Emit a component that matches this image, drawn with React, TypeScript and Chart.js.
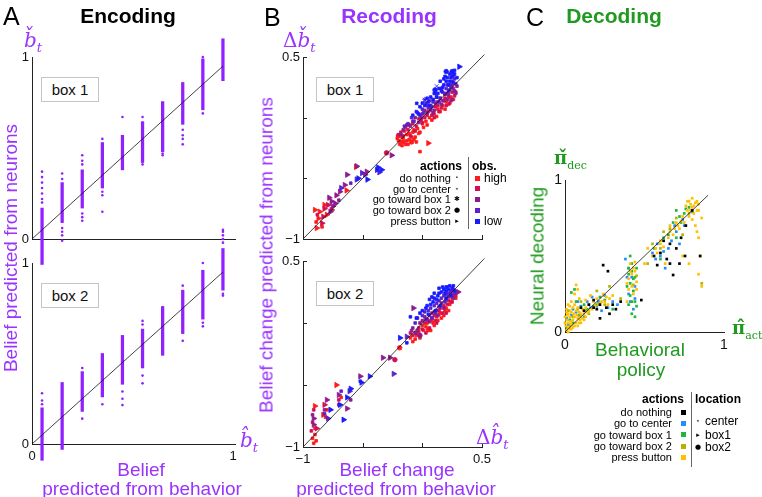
import React, { useEffect, useRef } from 'react';
import { Chart, registerables } from 'chart.js';

Chart.register(...registerables);
Chart.defaults.font.family = '"Liberation Sans", Arial, Helvetica, sans-serif';
Chart.defaults.color = '#111';

const W = 762;
const H = 497;
const PURPLE_TEXT = '#9933ff';
const PURPLE_DOT = '#9020ff';
const GREEN_TEXT = '#1f9a1f';
const SANS = '"Liberation Sans", Arial, Helvetica, sans-serif';
const SERIF = '"DejaVu Serif", "Liberation Serif", serif';

// ---------------- Panel A : Encoding ----------------
const beliefLevels = [0.05, 0.15, 0.25, 0.35, 0.45, 0.55, 0.65, 0.75, 0.85, 0.95];
const box1CoreLow = [-0.14, 0.09, 0.17, 0.28, 0.38, 0.42, 0.48, 0.63, 0.71, 0.87];
const box1CoreHigh = [0.17, 0.31, 0.38, 0.53, 0.57, 0.645, 0.755, 0.86, 0.99, 1.1];
const box1Dots = [
  [0.05, 0.37], [0.05, 0.34], [0.05, 0.31], [0.05, 0.28], [0.05, 0.25], [0.05, 0.22], [0.05, 0.2], [0.05, -0.2],
  [0.15, 0.36], [0.15, 0.33], [0.15, 0.06], [0.15, 0.04], [0.15, 0.02], [0.15, -0.01],
  [0.25, 0.46], [0.25, 0.43], [0.25, 0.41], [0.25, 0.14], [0.25, 0.12], [0.25, 0.1],
  [0.35, 0.55], [0.35, 0.26], [0.35, 0.24], [0.35, 0.15],
  [0.45, 0.67], [0.55, 0.67], [0.55, 0.41], [0.65, 0.47], [0.65, 0.46],
  [0.75, 0.6], [0.75, 0.57], [0.75, 0.55], [0.75, 0.52],
  [0.85, 1.0], [0.85, 0.69],
  [0.95, 0.05], [0.95, 0.04], [0.95, 0.02], [0.95, 0.0], [0.95, -0.02], [0.95, -0.04], [0.95, -0.06],
];
const box2CoreLow = [-0.09, -0.03, 0.18, 0.26, 0.33, 0.42, 0.49, 0.61, 0.69, 0.85];
const box2CoreHigh = [0.2, 0.34, 0.4, 0.5, 0.6, 0.635, 0.76, 0.85, 0.96, 1.08];
const box2Dots = [
  [0.05, 0.28], [0.05, 0.24], [0.05, 0.22], [0.15, -0.04],
  [0.25, 0.42], [0.25, 0.14], [0.35, 0.22],
  [0.45, 0.29], [0.45, 0.25], [0.45, 0.215],
  [0.55, 0.68], [0.55, 0.66], [0.55, 0.378], [0.55, 0.335],
  [0.75, 0.875], [0.75, 0.57], [0.85, 1.0], [0.85, 0.67], [0.85, 0.65], [0.95, 0.83], [0.95, 0.82],
];
const encodingDiagonal = [0, 0.95];
const unitTicks = [0, 1];

// ---------------- Panel B : Recoding ----------------
// points: [x, y, action]  action: 0 do nothing, 1 go to center, 2 toward box 1, 3 toward box 2, 4 press button
const recodeTicks = [-1, -0.5, 0, 0.5];
const recodeDiagonal = [-1, 0.52];
const obsColors = ['#ff1a1a', '#d01050', '#8e1a8e', '#5a22c8', '#1a1aff'];
const obsLabels = ['high', '', '', '', 'low'];

const b1High = [
  [-0.2, -0.19, 0], [-0.19, -0.22, 0], [-0.17, -0.16, 0], [-0.16, -0.2, 0], [-0.14, -0.22, 0], [-0.13, -0.14, 0],
  [-0.11, -0.18, 0], [-0.09, -0.2, 3], [-0.08, -0.12, 0], [-0.06, -0.16, 0], [-0.04, -0.09, 0], [-0.02, -0.12, 0],
  [0.0, -0.05, 0], [0.03, -0.03, 0], [0.06, 0.0, 0], [0.1, 0.03, 0], [0.13, 0.07, 0], [0.17, 0.1, 0], [0.2, 0.13, 0],
  [0.24, 0.17, 0], [-0.2, -0.15, 3], [-0.15, -0.11, 0], [-0.12, -0.22, 0], [-0.05, -0.2, 0],
  [-0.21, -0.17, 0], [-0.18, -0.2, 0], [-0.16, -0.17, 0], [-0.13, -0.19, 0], [-0.11, -0.13, 0], [-0.09, -0.16, 0],
  [-0.07, -0.1, 0], [-0.03, -0.13, 0], [0.01, -0.08, 0], [0.04, -0.06, 0], [0.08, -0.02, 0], [0.12, 0.01, 0],
  [0.15, 0.05, 0], [0.19, 0.07, 0], [0.22, 0.11, 0], [0.26, 0.15, 0], [-0.17, -0.23, 0], [-0.07, -0.18, 0],
  [0.05, -0.21, 4], [-0.02, -0.28, 0], [-0.556, -0.406, 4], [-0.155, -0.2, 0],
  [-0.9, -0.76, 4], [-0.87, -0.83, 4], [-0.885, -0.91, 4], [-0.86, -0.775, 4], [-0.8, -0.8, 4], [-0.635, -0.6, 4],
  [-0.89, -0.86, 0], [-0.84, -0.9, 0], [-0.82, -0.72, 4],
];
const b1Mid1 = [
  [-0.18, -0.12, 0], [-0.14, -0.08, 0], [-0.12, -0.1, 0], [-0.08, -0.05, 0], [-0.05, -0.07, 0], [-0.01, -0.02, 0],
  [0.02, 0.0, 0], [0.05, 0.05, 0], [0.08, 0.02, 0], [0.11, 0.09, 0], [0.14, 0.05, 0], [0.17, 0.14, 0], [0.2, 0.1, 0],
  [0.22, 0.17, 0], [0.25, 0.21, 0], [0.27, 0.18, 0], [0.23, 0.12, 0], [-0.1, -0.15, 0],
  [-0.2, -0.14, 0], [-0.16, -0.15, 0], [-0.11, -0.06, 0], [-0.06, -0.11, 0], [-0.03, -0.01, 0], [0.0, -0.04, 0],
  [0.04, 0.02, 0], [0.07, 0.06, 0], [0.1, 0.0, 0], [0.13, 0.1, 0], [0.16, 0.08, 0], [0.19, 0.16, 0], [0.24, 0.14, 0],
  [0.28, 0.21, 0], [0.21, 0.2, 0],
  [-0.3, -0.29, 3], [-0.84, -0.87, 4], [-0.82, -0.75, 4], [-0.79, -0.72, 4], [-0.83, -0.816, 4], [-0.76, -0.76, 4], [-0.88, -0.8, 0],
];
const b1Mid2 = [
  [-0.16, -0.1, 0], [-0.1, -0.07, 0], [-0.06, 0.0, 0], [-0.03, -0.04, 0], [0.0, 0.03, 0], [0.04, 0.04, 0], [0.07, 0.1, 0],
  [0.1, 0.06, 0], [0.13, 0.13, 0], [0.16, 0.11, 0], [0.19, 0.19, 0], [0.21, 0.15, 0], [0.23, 0.23, 0], [0.26, 0.24, 0],
  [0.28, 0.2, 0], [0.25, 0.15, 0],
  [-0.18, -0.14, 0], [-0.13, -0.06, 0], [-0.08, -0.03, 0], [-0.01, 0.0, 0], [0.02, 0.06, 0], [0.05, 0.08, 0],
  [0.09, 0.04, 0], [0.11, 0.12, 0], [0.15, 0.16, 0], [0.18, 0.14, 0], [0.22, 0.19, 0], [0.25, 0.27, 0], [0.27, 0.22, 0], [0.29, 0.26, 0],
  [-0.257, -0.31, 4], [-0.466, -0.445, 4], [-0.55, -0.4, 4], [-0.63, -0.47, 4], [-0.48, -0.47, 4], [-0.77, -0.775, 4],
  [-0.76, -0.69, 4], [-0.75, -0.73, 4], [-0.72, -0.64, 4], [-0.69, -0.61, 4], [-0.65, -0.555, 4], [-0.73, -0.706, 4],
  [-0.78, -0.66, 4], [-0.7, -0.68, 0],
];
const b1Mid3 = [
  [-0.12, -0.05, 0], [-0.07, -0.03, 0], [-0.02, 0.02, 0], [0.0, 0.07, 0], [0.04, 0.1, 0], [0.07, 0.07, 0], [0.09, 0.13, 0],
  [0.12, 0.17, 0], [0.15, 0.16, 0], [0.17, 0.21, 0], [0.2, 0.24, 0], [0.23, 0.27, 0], [0.25, 0.3, 0], [0.1, 0.15, 2], [0.02, 0.15, 1],
  [-0.15, -0.07, 0], [-0.09, 0.0, 0], [-0.04, 0.04, 0], [0.01, 0.04, 0], [0.03, 0.12, 0], [0.06, 0.14, 0], [0.08, 0.09, 0],
  [0.11, 0.2, 0], [0.14, 0.13, 0], [0.16, 0.24, 0], [0.19, 0.2, 0], [0.21, 0.27, 0], [0.24, 0.25, 0], [0.27, 0.32, 0], [0.28, 0.28, 0],
  [-0.505, -0.456, 4], [-0.55, -0.51, 4], [-0.68, -0.58, 4], [-0.36, -0.45, 4], [-0.6, -0.54, 0],
];
const b1Low = [
  [-0.05, 0.05, 0], [-0.02, 0.09, 0], [0.02, 0.1, 0], [0.05, 0.13, 0], [0.07, 0.17, 0], [0.1, 0.2, 0], [0.12, 0.17, 0],
  [0.14, 0.24, 0], [0.16, 0.22, 0], [0.18, 0.27, 0], [0.2, 0.3, 0], [0.22, 0.27, 0], [0.24, 0.33, 0], [0.26, 0.35, 0],
  [0.25, 0.38, 3], [0.2, 0.38, 3], [0.27, 0.39, 0], [0.15, 0.3, 0], [0.106, 0.228, 3], [0.022, 0.146, 2], [-0.047, 0.118, 0],
  [0.29, 0.33, 0], [0.23, 0.36, 0], [0.18, 0.32, 0], [0.12, 0.26, 2],
  [-0.08, 0.02, 0], [-0.03, 0.03, 0], [0.0, 0.12, 0], [0.04, 0.16, 0], [0.06, 0.1, 0], [0.09, 0.15, 0], [0.11, 0.23, 0],
  [0.13, 0.2, 0], [0.17, 0.25, 0], [0.19, 0.34, 0], [0.21, 0.33, 0], [0.23, 0.3, 0], [0.25, 0.34, 0], [0.27, 0.36, 0],
  [0.22, 0.22, 0], [0.26, 0.29, 0],
  [0.31, 0.42, 4], [-0.46, -0.51, 4], [-0.38, -0.43, 4], [-0.34, -0.43, 4], [-0.37, -0.41, 4], [-0.536, -0.5, 4],
];

const b2High = [
  [-0.08, -0.15, 0], [-0.05, -0.1, 0], [-0.02, -0.12, 0], [0.0, -0.02, 0], [0.05, -0.054, 3], [0.08, 0.02, 0], [0.1, -0.02, 0],
  [0.12, 0.05, 0], [0.15, 0.08, 0], [0.18, 0.06, 0], [0.2, 0.12, 0], [0.23, 0.15, 0], [0.25, 0.2, 0], [0.27, 0.23, 0],
  [0.04, 0.0, 0], [-0.19, -0.2, 3],
  [-0.1, -0.12, 0], [-0.06, -0.13, 0], [-0.03, -0.07, 0], [0.01, -0.06, 0], [0.03, -0.03, 0], [0.07, -0.06, 0],
  [0.09, 0.0, 0], [0.13, 0.02, 0], [0.16, 0.04, 0], [0.19, 0.1, 0], [0.22, 0.1, 0], [0.24, 0.17, 0], [0.28, 0.2, 0], [0.14, 0.07, 0],
  [-0.72, -0.5, 4], [-0.83, -0.74, 4], [-0.9, -0.67, 4], [-0.9, -0.9, 0], [-0.91, -0.97, 0], [-0.92, -0.93, 0],
  [-0.9, -0.85, 0], [-0.89, -0.95, 0], [-0.8, -0.7, 0], [-0.68, -0.6, 0],
];
const b2Mid1 = [
  [-0.05, -0.08, 0], [0.02, 0.0, 0], [0.06, -0.04, 0], [0.1, 0.06, 0], [0.14, 0.1, 0], [0.18, 0.14, 0], [0.22, 0.18, 0],
  [0.26, 0.22, 0], [0.03, -0.08, 0], [0.12, 0.0, 0], [0.2, 0.08, 0], [-0.23, -0.296, 3],
  [-0.08, -0.1, 0], [-0.03, -0.04, 0], [0.0, -0.05, 0], [0.05, 0.02, 0], [0.08, 0.04, 0], [0.11, 0.02, 0], [0.15, 0.12, 0],
  [0.17, 0.08, 0], [0.21, 0.15, 0], [0.25, 0.17, 0], [0.28, 0.22, 0], [-0.1, -0.08, 0],
  [-0.82, -0.66, 4], [-0.93, -0.87, 0], [-0.885, -0.85, 4], [-0.92, -0.8, 0], [-0.91, -0.7, 0], [-0.7, -0.62, 0], [-0.81, -0.76, 0],
];
const b2Mid2 = [
  [-0.08, -0.04, 0], [-0.04, -0.06, 0], [0.0, 0.02, 0], [0.04, 0.03, 0], [0.08, 0.08, 0], [0.12, 0.1, 0], [0.16, 0.16, 0],
  [0.2, 0.19, 0], [0.24, 0.24, 0], [0.28, 0.25, 0], [-0.075, 0.12, 4], [0.06, 0.06, 0], [-0.02, -0.1, 3],
  [-0.06, -0.08, 0], [-0.02, 0.0, 0], [0.02, 0.05, 0], [0.06, 0.01, 0], [0.1, 0.09, 0], [0.14, 0.13, 0], [0.18, 0.12, 0],
  [0.22, 0.21, 0], [0.26, 0.2, 0], [0.13, 0.06, 0], [-0.09, -0.06, 0],
  [-0.33, -0.28, 4], [-0.27, -0.28, 4], [-0.52, -0.43, 4], [-0.7, -0.58, 4], [-0.63, -0.69, 4], [-0.8, -0.62, 4],
  [-0.91, -0.77, 4], [-0.91, -0.82, 4], [-0.92, -0.74, 0], [-0.82, -0.7, 0], [-0.7, -0.66, 0], [-0.6, -0.62, 0], [0.3, 0.25, 4],
];
const b2Mid3 = [
  [-0.06, 0.0, 0], [0.0, 0.06, 0], [0.05, 0.1, 0], [0.1, 0.14, 0], [0.14, 0.18, 0], [0.18, 0.22, 0], [0.22, 0.24, 0],
  [0.26, 0.27, 0], [0.08, 0.04, 0],
  [-0.04, 0.04, 0], [0.02, 0.09, 0], [0.03, 0.03, 0], [0.07, 0.12, 0], [0.12, 0.16, 0], [0.16, 0.2, 0], [0.2, 0.23, 0],
  [0.24, 0.26, 0], [0.27, 0.24, 0], [0.11, 0.08, 0], [0.19, 0.17, 0],
  [-0.13, -0.11, 4], [-0.24, -0.41, 4], [-0.61, -0.55, 4], [-0.79, -0.77, 4], [-0.68, -0.55, 0], [-0.82, -0.73, 0],
];
const b2Low = [
  [-0.02, 0.08, 0], [0.03, 0.12, 0], [0.07, 0.15, 0], [0.1, 0.2, 0], [0.13, 0.22, 0], [0.16, 0.25, 0], [0.19, 0.24, 0],
  [0.22, 0.27, 0], [0.24, 0.22, 0], [0.2, 0.2, 0], [0.15, 0.14, 0], [0.11, 0.1, 0], [0.17, 0.29, 0], [0.08, 0.21, 0],
  [0.23, 0.3, 0], [0.2, 0.26, 0], [0.05, 0.07, 0], [-0.1, 0.05, 0], [0.14, 0.28, 0],
  [-0.05, 0.04, 0], [0.0, 0.1, 0], [0.04, 0.14, 0], [0.09, 0.17, 0], [0.12, 0.19, 0], [0.14, 0.24, 0], [0.18, 0.27, 0],
  [0.21, 0.29, 0], [0.25, 0.28, 0], [0.27, 0.26, 0], [0.26, 0.3, 0], [0.1, 0.24, 0], [0.06, 0.19, 0], [0.2, 0.29, 0],
  [-0.187, -0.12, 4], [-0.44, -0.43, 4], [-0.51, -0.48, 4], [-0.63, -0.6, 4], [-0.69, -0.66, 4], [-0.66, -0.78, 4],
  [-0.77, -0.7, 4], [-0.13, -0.16, 0], [-0.52, -0.47, 0], [-0.6, -0.53, 4],
];

// ---------------- Panel C : Decoding ----------------
const decodeDiagonal = [0, 0.9];
const actionLabels = ['do nothing', 'go to center', 'go toward box 1', 'go toward box 2', 'press button'];
const actionColors = ['#000000', '#1f8fff', '#1fb83c', '#b3b300', '#ffc000'];
const locationLabels = ['center', 'box1', 'box2'];

const decNothing = [
  [0.24, 0.44], [0.27, 0.4], [0.18, 0.21], [0.22, 0.09], [0.15, 0.18], [0.2, 0.15], [0.26, 0.16], [0.3, 0.18], [0.48, 0.21],
  [0.68, 0.375], [0.755, 0.5], [0.6, 0.52], [0.64, 0.48], [0.7, 0.55], [0.66, 0.45], [0.73, 0.62], [0.76, 0.7], [0.62, 0.6],
  [0.58, 0.44], [0.8, 0.8], [0.1, 0.16], [0.35, 0.2], [0.28, 0.12], [0.72, 0.45], [0.85, 0.5],
  [0.12, 0.14], [0.18, 0.16], [0.22, 0.18], [0.32, 0.15], [0.56, 0.5], [0.66, 0.58],
];
const decCenter = [
  [0.02, 0.05], [0.05, 0.15], [0.1, 0.17], [0.14, 0.2], [0.2, 0.17], [0.25, 0.24], [0.3, 0.2], [0.08, 0.2], [0.17, 0.23],
  [0.4, 0.42], [0.42, 0.36], [0.44, 0.3], [0.4, 0.25], [0.43, 0.15], [0.38, 0.48], [0.55, 0.52], [0.6, 0.5], [0.65, 0.55],
  [0.67, 0.6], [0.7, 0.66], [0.75, 0.7], [0.72, 0.58], [0.63, 0.42], [0.12, 0.1], [0.23, 0.14],
  [0.01, 0.09], [0.04, 0.11], [0.07, 0.13], [0.16, 0.16], [0.21, 0.2], [0.27, 0.16], [0.33, 0.18], [0.41, 0.2],
  [0.39, 0.36], [0.44, 0.22], [0.57, 0.48], [0.62, 0.53], [0.69, 0.7], [0.74, 0.74], [0.8, 0.79], [0.58, 0.58],
];
const decBox1 = [
  [0.03, 0.08], [0.04, 0.26], [0.06, 0.28], [0.07, 0.2], [0.12, 0.18], [0.18, 0.17], [0.25, 0.21], [0.4, 0.38], [0.42, 0.45],
  [0.41, 0.32], [0.43, 0.27], [0.44, 0.2], [0.42, 0.12], [0.45, 0.42], [0.39, 0.3], [0.41, 0.5], [0.56, 0.55], [0.62, 0.62],
  [0.68, 0.72], [0.72, 0.76], [0.75, 0.78], [0.7, 0.8], [0.78, 0.82], [0.6, 0.48], [0.02, 0.14], [0.3, 0.15], [0.43, 0.35],
  [0.4, 0.18], [0.44, 0.1],
  [0.01, 0.03], [0.05, 0.06], [0.09, 0.11], [0.14, 0.15], [0.2, 0.18], [0.22, 0.23], [0.42, 0.4], [0.44, 0.36], [0.4, 0.42],
  [0.41, 0.24], [0.42, 0.2], [0.45, 0.17], [0.65, 0.64], [0.73, 0.72], [0.76, 0.81], [0.7, 0.62],
];
const decBox2 = [
  [0.05, 0.1], [0.1, 0.2], [0.2, 0.27], [0.28, 0.3], [0.35, 0.22], [0.45, 0.37], [0.55, 0.58], [0.6, 0.55], [0.7, 0.75],
  [0.66, 0.68], [0.86, 0.32], [0.52, 0.45], [0.15, 0.12],
  [0.03, 0.04], [0.08, 0.15], [0.12, 0.14], [0.25, 0.18], [0.43, 0.31], [0.62, 0.66], [0.78, 0.78], [0.74, 0.64],
];
const decPress = [
  [0.01, 0.01], [0.02, 0.03], [0.03, 0.02], [0.02, 0.06], [0.04, 0.05], [0.05, 0.03], [0.01, 0.08], [0.03, 0.1], [0.05, 0.08],
  [0.07, 0.06], [0.06, 0.1], [0.08, 0.09], [0.04, 0.13], [0.02, 0.12], [0.1, 0.1], [0.09, 0.13], [0.12, 0.12], [0.07, 0.14],
  [0.01, 0.15], [0.03, 0.17], [0.06, 0.18], [0.11, 0.15], [0.14, 0.13], [0.08, 0.04], [0.1, 0.06], [0.12, 0.08],
  [0.005, 0.04], [0.015, 0.11], [0.035, 0.07], [0.055, 0.12], [0.075, 0.11], [0.095, 0.08],
  [0.02, 0.0], [0.04, 0.02], [0.06, 0.04], [0.09, 0.06], [0.11, 0.09], [0.13, 0.1], [0.15, 0.14], [0.17, 0.15], [0.19, 0.17],
  [0.21, 0.18], [0.23, 0.2], [0.0, 0.06], [0.0, 0.1], [0.01, 0.13], [0.03, 0.14], [0.05, 0.16], [0.04, 0.2], [0.02, 0.18],
  [0.1, 0.12], [0.08, 0.16], [0.13, 0.16], [0.26, 0.23], [0.3, 0.24], [0.27, 0.18],
  [0.15, 0.18], [0.18, 0.2], [0.2, 0.22], [0.22, 0.19], [0.25, 0.2], [0.28, 0.22], [0.16, 0.24], [0.13, 0.21], [0.24, 0.25],
  [0.06, 0.25], [0.08, 0.28], [0.09, 0.22], [0.07, 0.31],
  [0.4, 0.35], [0.42, 0.3], [0.44, 0.4], [0.41, 0.45], [0.43, 0.25], [0.39, 0.2], [0.45, 0.33], [0.42, 0.38], [0.4, 0.28], [0.44, 0.46],
  [0.41, 0.4], [0.43, 0.42], [0.39, 0.32], [0.45, 0.28],
  [0.55, 0.5], [0.58, 0.52], [0.6, 0.6], [0.62, 0.56], [0.65, 0.62], [0.66, 0.7], [0.68, 0.64], [0.7, 0.72], [0.72, 0.68],
  [0.74, 0.76], [0.75, 0.72], [0.77, 0.8], [0.78, 0.76], [0.8, 0.82], [0.82, 0.85], [0.79, 0.84], [0.81, 0.78], [0.83, 0.8],
  [0.84, 0.84], [0.76, 0.83], [0.78, 0.86], [0.8, 0.74], [0.82, 0.7], [0.84, 0.62], [0.85, 0.5], [0.84, 0.38], [0.86, 0.3],
  [0.78, 0.45], [0.74, 0.5], [0.63, 0.45], [0.5, 0.45], [0.52, 0.55],
  [0.66, 0.66], [0.69, 0.68], [0.71, 0.7], [0.73, 0.73], [0.79, 0.8], [0.81, 0.83], [0.83, 0.86], [0.77, 0.86], [0.8, 0.88],
  [0.84, 0.8], [0.86, 0.75], [0.83, 0.66], [0.6, 0.58], [0.57, 0.55],
];

// ---------------- helpers ----------------
type Area = { left: number; top: number; right: number; bottom: number };
const Y_W = 40;
const X_H = 30;

function axis(min: number, max: number, ticks: number[], label: (v: number) => string, show: boolean, size: number, isX: boolean) {
  return {
    type: 'linear',
    min,
    max,
    offset: false,
    beginAtZero: false,
    afterBuildTicks: (s: any) => { s.ticks = ticks.map((v) => ({ value: v })); },
    afterFit: (s: any) => { if (isX) s.height = X_H; else s.width = Y_W; },
    grid: { display: false, drawTicks: false, offset: false },
    border: { display: true, color: '#222', width: 1 },
    ticks: {
      display: show,
      autoSkip: false,
      maxRotation: 0,
      padding: isX ? 5 : 3,
      font: { size },
      color: '#111',
      callback: (v: any) => label(Number(v)),
    },
  };
}

function padFor(a: Area) {
  return { left: a.left - Y_W, top: a.top, right: W - a.right, bottom: H - a.bottom - X_H };
}

const inwardTicks = {
  id: 'inwardTicks',
  afterDatasetsDraw(chart: any) {
    const { ctx, chartArea, scales } = chart;
    ctx.save();
    ctx.strokeStyle = '#222';
    ctx.lineWidth = 1;
    ctx.beginPath();
    recodeTicks.forEach((v) => {
      const px = Math.round(scales.x.getPixelForValue(v)) + 0.5;
      ctx.moveTo(px, chartArea.bottom);
      ctx.lineTo(px, chartArea.bottom - 4);
      const py = Math.round(scales.y.getPixelForValue(v)) + 0.5;
      ctx.moveTo(chartArea.left, py);
      ctx.lineTo(chartArea.left + 4, py);
    });
    ctx.stroke();
    ctx.restore();
  },
};

const markerStyles = ['rect', 'star', 'crossRot', 'circle', 'triangle'];
const markerRadius = [1.9, 2.6, 2.6, 2.3, 3.1];

function diagLine(ends: number[]) {
  return {
    type: 'scatter',
    data: ends.map((v) => ({ x: v, y: v })),
    showLine: true,
    borderColor: '#111',
    borderWidth: 0.8,
    pointRadius: 0,
    clip: false,
  };
}

function encodingConfig(area: Area, low: number[], high: number[], dots: number[][], showX: boolean) {
  return {
    type: 'scatter',
    data: {
      datasets: [
        diagLine(encodingDiagonal),
        {
          type: 'scatter',
          data: dots.map(([x, y]) => ({ x, y })),
          pointRadius: 1.3,
          pointBackgroundColor: PURPLE_DOT,
          pointBorderWidth: 0,
          clip: false,
        },
        {
          type: 'bar',
          data: beliefLevels.map((x, i) => ({ x, y: [low[i], high[i]] })),
          backgroundColor: PURPLE_DOT,
          borderWidth: 0,
          barThickness: 2.6,
          clip: false,
        },
      ],
    },
    options: {
      responsive: false,
      animation: false,
      events: [],
      layout: { padding: padFor(area) },
      plugins: { legend: { display: false }, tooltip: { enabled: false } },
      scales: {
        x: axis(0, 1.01, unitTicks, (v) => String(v), showX, 13, true),
        y: axis(0, 1, unitTicks, (v) => String(v), true, 13, false),
      },
    },
  };
}

function recodingConfig(area: Area, groups: number[][][]) {
  const sets = groups.map((pts, gi) => ({
    type: 'scatter',
    data: pts.map(([x, y, a]) => ({ x, y, a })),
    pointStyle: (c: any) => markerStyles[c.raw ? c.raw.a : 0],
    pointRadius: (c: any) => markerRadius[c.raw ? c.raw.a : 0],
    pointRotation: (c: any) => (c.raw && c.raw.a === 4 ? 90 : 0),
    pointBackgroundColor: obsColors[gi],
    pointBorderColor: obsColors[gi],
    pointBorderWidth: 0.8,
    clip: false,
  }));
  const tickLabel = (v: number) => (v === -1 ? '\u22121' : v === 0.5 ? '0.5' : '');
  return {
    type: 'scatter',
    data: { datasets: [diagLine(recodeDiagonal), ...sets.reverse()] },
    options: {
      responsive: false,
      animation: false,
      events: [],
      layout: { padding: padFor(area) },
      plugins: { legend: { display: false }, tooltip: { enabled: false } },
      scales: {
        x: axis(-1, 0.5, recodeTicks, tickLabel, area.top > 200, 13, true),
        y: axis(-1, 0.5, recodeTicks, tickLabel, true, 13, false),
      },
    },
    plugins: [inwardTicks],
  };
}

function decodingConfig(area: Area) {
  const groups = [decNothing, decPress, decBox2, decBox1, decCenter];
  const colors = [actionColors[0], actionColors[4], actionColors[3], actionColors[2], actionColors[1]];
  const sets = groups.map((pts, gi) => ({
    type: 'scatter',
    data: pts.map(([x, y]) => ({ x, y })),
    pointStyle: 'rect',
    pointRadius: 1.9,
    pointBackgroundColor: colors[gi],
    pointBorderWidth: 0,
    clip: false,
  }));
  return {
    type: 'scatter',
    data: { datasets: [diagLine(decodeDiagonal), ...sets] },
    options: {
      responsive: false,
      animation: false,
      events: [],
      layout: { padding: padFor(area) },
      plugins: { legend: { display: false }, tooltip: { enabled: false } },
      scales: {
        x: axis(0, 1, unitTicks, (v) => String(v), true, 14, true),
        y: axis(0, 1, unitTicks, (v) => String(v), true, 14, false),
      },
    },
  };
}

const areaA1: Area = { left: 32, top: 57, right: 235, bottom: 239 };
const areaA2: Area = { left: 32, top: 263, right: 235, bottom: 444 };
const areaB1: Area = { left: 303, top: 57, right: 482, bottom: 239 };
const areaB2: Area = { left: 303, top: 261, right: 482, bottom: 447 };
const areaC: Area = { left: 565, top: 180, right: 724, bottom: 332 };

function ChartCanvas({ config }: { config: any }) {
  const ref = useRef<HTMLCanvasElement>(null);
  useEffect(() => {
    if (!ref.current) return;
    const chart = new Chart(ref.current, config);
    return () => chart.destroy();
  }, [config]);
  return <canvas ref={ref} width={W} height={H} style={{ position: 'absolute', left: 0, top: 0, width: W, height: H }} />;
}

function T({ x, y, children, align = 'center', style = {} }: any) {
  const tx = align === 'center' ? '-50%' : align === 'right' ? '-100%' : '0';
  return (
    <div
      style={{
        position: 'absolute', left: x, top: y, transform: `translate(${tx}, -50%)`, whiteSpace: 'nowrap',
        lineHeight: 1, fontFamily: SANS, ...style,
      }}
    >
      {children}
    </div>
  );
}

function VLabel({ x, y, text, color }: any) {
  return (
    <div
      style={{
        position: 'absolute', left: x, top: y, transform: 'translate(-50%, -50%) rotate(-90deg)', whiteSpace: 'nowrap',
        lineHeight: 1, fontFamily: SANS, fontSize: 19, color,
      }}
    >
      {text}
    </div>
  );
}

function BoxLabel({ x, y, text }: any) {
  return (
    <div
      style={{
        position: 'absolute', left: x, top: y, width: 56, height: 23, border: '1px solid #c4c4c4', background: '#fff',
        fontFamily: SANS, fontSize: 15, lineHeight: '23px', textAlign: 'center', color: '#111',
      }}
    >
      {text}
    </div>
  );
}

const actionMarks = ['\u00b7', '\u22c6', '\u2731', '\u25cf', '\u25b8'];

function RecodeLegend() {
  const rows = [178, 188.5, 199, 210, 221];
  return (
    <>
      <T x={462} y={166} align="right" style={{ fontSize: 12, fontWeight: 'bold' }}>actions</T>
      {actionLabels.map((l, i) => (
        <T key={l} x={451} y={rows[i]} align="right" style={{ fontSize: 11 }}>{l}</T>
      ))}
      {actionMarks.map((m, i) => (
        <T key={i} x={457} y={rows[i]} style={{ fontSize: i === 0 ? 12 : 7, fontFamily: '"DejaVu Sans", sans-serif' }}>{m}</T>
      ))}
      <div style={{ position: 'absolute', left: 468, top: 157, width: 1, height: 72, background: '#666' }} />
      <T x={472} y={166} align="left" style={{ fontSize: 12, fontWeight: 'bold' }}>obs.</T>
      {obsColors.map((c, i) => (
        <div key={c} style={{ position: 'absolute', left: 475, top: rows[i] - 2.5, width: 5, height: 5, background: c }} />
      ))}
      {obsLabels.map((l, i) => (l ? <T key={l} x={484} y={rows[i]} align="left" style={{ fontSize: 12 }}>{l}</T> : null))}
    </>
  );
}

function DecodeLegend() {
  const rows = [412, 423, 434.5, 446, 457];
  const locRows = [421, 434.5, 447];
  const locMarks = ['\u22c6', '\u25b8', '\u25cf'];
  return (
    <>
      <T x={684} y={399} align="right" style={{ fontSize: 12, fontWeight: 'bold' }}>actions</T>
      {actionLabels.map((l, i) => (
        <T key={l} x={672} y={rows[i]} align="right" style={{ fontSize: 11 }}>{l}</T>
      ))}
      {actionColors.map((c, i) => (
        <div key={c} style={{ position: 'absolute', left: 680.5, top: rows[i] - 2.5, width: 5, height: 5, background: c }} />
      ))}
      <div style={{ position: 'absolute', left: 691, top: 392, width: 1, height: 75, background: '#666' }} />
      <T x={695} y={399} align="left" style={{ fontSize: 12, fontWeight: 'bold' }}>location</T>
      {locationLabels.map((l, i) => (
        <React.Fragment key={l}>
          <T x={698} y={locRows[i]} style={{ fontSize: 7, fontFamily: '"DejaVu Sans", sans-serif' }}>{locMarks[i]}</T>
          <T x={705} y={locRows[i]} align="left" style={{ fontSize: 12 }}>{l}</T>
        </React.Fragment>
      ))}
    </>
  );
}

const configs = {
  a1: encodingConfig(areaA1, box1CoreLow, box1CoreHigh, box1Dots, false),
  a2: encodingConfig(areaA2, box2CoreLow, box2CoreHigh, box2Dots, true),
  b1: recodingConfig(areaB1, [b1High, b1Mid1, b1Mid2, b1Mid3, b1Low]),
  b2: recodingConfig(areaB2, [b2High, b2Mid1, b2Mid2, b2Mid3, b2Low]),
  c: decodingConfig(areaC),
};

export default function App() {
  const mathP = { fontFamily: SERIF, color: PURPLE_TEXT, fontSize: 20 };
  const mathG = { fontFamily: SERIF, color: GREEN_TEXT, fontSize: 18 };
  return (
    <div style={{ position: 'fixed', left: 0, top: 0, width: W, height: H, background: '#fff', overflow: 'hidden' }}>
      <ChartCanvas config={configs.a1} />
      <ChartCanvas config={configs.a2} />
      <ChartCanvas config={configs.b1} />
      <ChartCanvas config={configs.b2} />
      <ChartCanvas config={configs.c} />

      <T x={3} y={16} align="left" style={{ fontSize: 25 }}>A</T>
      <T x={128} y={15} style={{ fontSize: 21, fontWeight: 'bold' }}>Encoding</T>
      <T x={264} y={17} align="left" style={{ fontSize: 25 }}>B</T>
      <T x={389} y={15} style={{ fontSize: 21, fontWeight: 'bold', color: PURPLE_TEXT }}>Recoding</T>
      <T x={526} y={17} align="left" style={{ fontSize: 25 }}>C</T>
      <T x={614} y={15} style={{ fontSize: 21, fontWeight: 'bold', color: GREEN_TEXT }}>Decoding</T>

      <BoxLabel x={41} y={77} text="box 1" />
      <BoxLabel x={41} y={283} text="box 2" />
      <BoxLabel x={316} y={77} text="box 1" />
      <BoxLabel x={316} y={281} text="box 2" />

      <T x={24} y={42} align="left" style={mathP}><i>b&#x30C;</i><sub style={{ fontSize: 13 }}><i>t</i></sub></T>
      <T x={240} y={442} align="left" style={mathP}><i>b&#x302;</i><sub style={{ fontSize: 13 }}><i>t</i></sub></T>
      <VLabel x={10} y={248} text="Belief predicted from neurons" color={PURPLE_TEXT} />
      <T x={141} y={469} style={{ fontSize: 19, color: PURPLE_TEXT }}>Belief</T>
      <T x={142} y={488} style={{ fontSize: 19, color: PURPLE_TEXT }}>predicted from behavior</T>

      <T x={283} y={42} align="left" style={mathP}>&Delta;<i>b&#x30C;</i><sub style={{ fontSize: 13 }}><i>t</i></sub></T>
      <T x={476} y={439} align="left" style={mathP}>&Delta;<i>b&#x302;</i><sub style={{ fontSize: 13 }}><i>t</i></sub></T>
      <VLabel x={266} y={255} text="Belief change predicted from neurons" color={PURPLE_TEXT} />
      <T x={397} y={469} style={{ fontSize: 19, color: PURPLE_TEXT }}>Belief change</T>
      <T x={396} y={488} style={{ fontSize: 19, color: PURPLE_TEXT }}>predicted from behavior</T>
      <RecodeLegend />

      <T x={554} y={160} align="left" style={mathG}><b>&pi;&#x30C;</b><sub style={{ fontSize: 11 }}>dec</sub></T>
      <T x={732} y={330} align="left" style={mathG}><b>&pi;&#x302;</b><sub style={{ fontSize: 11 }}>act</sub></T>
      <VLabel x={537} y={256} text="Neural decoding" color={GREEN_TEXT} />
      <T x={640} y={349} style={{ fontSize: 19, color: GREEN_TEXT }}>Behavioral</T>
      <T x={641} y={369} style={{ fontSize: 19, color: GREEN_TEXT }}>policy</T>
      <DecodeLegend />
    </div>
  );
}
